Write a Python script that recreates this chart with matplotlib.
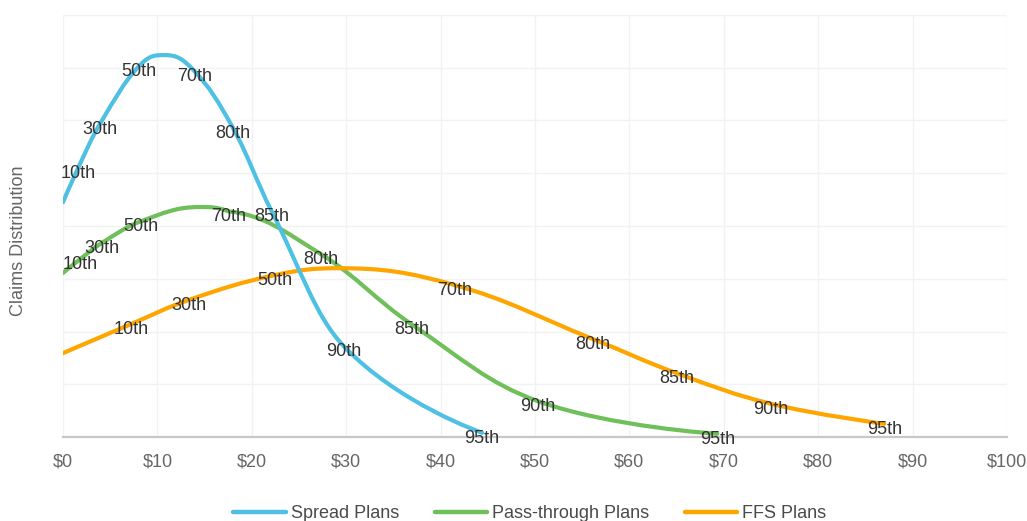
import matplotlib
matplotlib.use("Agg")
import matplotlib.pyplot as plt
from matplotlib.path import Path
from matplotlib.patches import PathPatch
from matplotlib.lines import Line2D

plt.rcParams['font.family'] = ['Liberation Sans', 'DejaVu Sans']

# Claim cost ($) and relative density for each plan type; labelled points are percentiles
spread_x = [0, 1.6, 3.9, 8.05, 10.8, 13.9, 18.0, 22.1, 29.7, 44.4]
spread_y = [4.45, 5.10, 5.93, 7.03, 7.24, 6.94, 5.86, 4.28, 1.73, 0.08]
spread_labels = ['', '10th', '30th', '50th', '', '70th', '80th', '85th', '90th', '95th']

passthru_x = [0, 1.8, 4.13, 8.26, 14.5, 17.5, 27.3, 36.9, 50.3, 69.3]
passthru_y = [3.11, 3.37, 3.68, 4.09, 4.36, 4.28, 3.47, 2.14, 0.68, 0.06]
passthru_labels = ['', '10th', '30th', '50th', '', '70th', '80th', '85th', '90th', '95th']

ffs_x = [0, 7.2, 13.35, 22.46, 29.1, 41.5, 56.1, 65.0, 75.0, 87.0]
ffs_y = [1.59, 2.14, 2.60, 3.07, 3.20, 2.88, 1.86, 1.21, 0.63, 0.25]
ffs_labels = ['', '10th', '30th', '50th', '', '70th', '80th', '85th', '90th', '95th']

series_names = ['Spread Plans', 'Pass-through Plans', 'FFS Plans']
series_colors = ['#4ec0e4', '#6fbf5a', '#ffa500']

x_ticks = list(range(0, 101, 10))
x_tick_labels = ['$' + str(v) for v in x_ticks]


def spline_path(xs, ys, smoothing=1.5):
    """Smooth cubic Bezier path through the points (no false extremes)."""
    n = len(xs)
    denom = smoothing + 1
    verts = [(xs[0], ys[0])]
    codes = [Path.MOVETO]
    right_ctrl = [None] * n
    for i in range(1, n):
        px, py = xs[i], ys[i]
        lx, ly = xs[i - 1], ys[i - 1]
        if i < n - 1:
            nx, ny = xs[i + 1], ys[i + 1]
            lcx = (smoothing * px + lx) / denom
            lcy = (smoothing * py + ly) / denom
            rcx = (smoothing * px + nx) / denom
            rcy = (smoothing * py + ny) / denom
            if rcx != lcx:
                corr = (rcy - lcy) * (rcx - px) / (rcx - lcx) + py - rcy
                lcy += corr
                rcy += corr
            if lcy > ly and lcy > py:
                lcy = max(ly, py)
                rcy = 2 * py - lcy
            elif lcy < ly and lcy < py:
                lcy = min(ly, py)
                rcy = 2 * py - lcy
            if rcy > ny and rcy > py:
                rcy = max(ny, py)
                lcy = 2 * py - rcy
            elif rcy < ny and rcy < py:
                rcy = min(ny, py)
                lcy = 2 * py - rcy
            right_ctrl[i] = (rcx, rcy)
        else:
            lcx, lcy = px, py
        c1 = right_ctrl[i - 1] if right_ctrl[i - 1] is not None else (lx, ly)
        verts += [c1, (lcx, lcy), (px, py)]
        codes += [Path.CURVE4] * 3
    return Path(verts, codes)


fig = plt.figure(figsize=(10.27, 5.21), dpi=100)
ax = fig.add_axes([63 / 1027, 84 / 521, 944 / 1027, 422 / 521])
ax.set_xlim(0, 100)
ax.set_ylim(0, 8)

ax.set_xticks(x_ticks)
ax.set_xticklabels(x_tick_labels)
ax.set_yticks(range(0, 9))
ax.set_yticklabels([])
ax.tick_params(axis='both', length=0)
ax.tick_params(axis='x', labelsize=13, labelcolor='#666666', pad=12)
ax.grid(True, color='#f2f2f2', linewidth=1)
ax.set_axisbelow(True)
for side in ['top', 'right', 'left']:
    ax.spines[side].set_visible(False)
ax.spines['bottom'].set_color('#c8c8c8')
ax.spines['bottom'].set_linewidth(1.6)
ax.spines['bottom'].set_zorder(1.5)

fig.text(19 / 1027, 1 - 241 / 521, 'Claims Distribution', rotation=90,
         ha='center', va='center', fontsize=13, color='#666666')

all_series = [
    (spread_x, spread_y, spread_labels, 4),
    (passthru_x, passthru_y, passthru_labels, 2),
    (ffs_x, ffs_y, ffs_labels, 3),
]
for (xs, ys, labels, z), color in zip(all_series, series_colors):
    patch = PathPatch(spline_path(xs, ys), facecolor='none', edgecolor=color,
                      linewidth=3, capstyle='round', joinstyle='round', zorder=z)
    ax.add_patch(patch)
    for xv, yv, lab in zip(xs, ys, labels):
        if lab:
            ax.annotate(lab, (xv, yv), xytext=(0, -3.8), textcoords='offset points',
                        ha='center', va='center', fontsize=13, color='#333333',
                        zorder=10, annotation_clip=False)

handles = [Line2D([0], [0], color=c, linewidth=3.2, solid_capstyle='round')
           for c in series_colors]
fig.legend(handles, series_names, loc='center', bbox_to_anchor=(530 / 1027, 7 / 521),
           ncol=3, frameon=False, fontsize=13, labelcolor='#4a4a4a',
           handlelength=2.9, handletextpad=0.3, columnspacing=1.95,
           borderpad=0, borderaxespad=0)

fig.savefig('out.png', dpi=100)
